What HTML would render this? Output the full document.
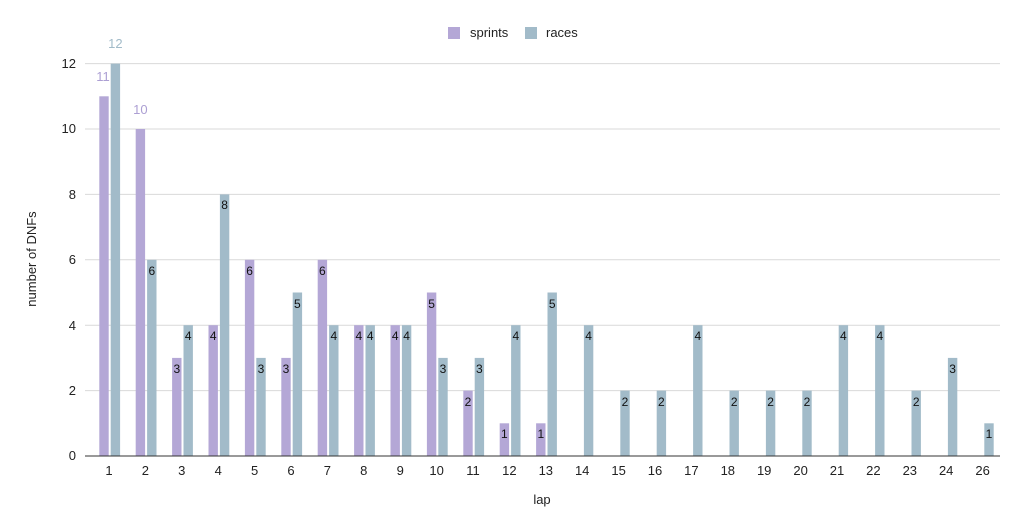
<!DOCTYPE html>
<html><head><meta charset="utf-8"><style>
body{margin:0;background:#fff;}
svg{display:block;font-family:"Liberation Sans",Arial,sans-serif;}
</style></head><body>
<svg width="1023" height="532" viewBox="0 0 1023 532" xmlns="http://www.w3.org/2000/svg">
<rect width="1023" height="532" fill="#fff"/>
<g stroke="#d9d9d9" stroke-width="1">
<line x1="85" x2="1000" y1="63.6" y2="63.6"/>
<line x1="85" x2="1000" y1="129" y2="129"/>
<line x1="85" x2="1000" y1="194.4" y2="194.4"/>
<line x1="85" x2="1000" y1="259.8" y2="259.8"/>
<line x1="85" x2="1000" y1="325.2" y2="325.2"/>
<line x1="85" x2="1000" y1="390.6" y2="390.6"/>
</g>
<g font-size="13" fill="#222" text-anchor="end">
<text x="76" y="68">12</text><text x="76" y="133">10</text><text x="76" y="199">8</text>
<text x="76" y="264">6</text><text x="76" y="330">4</text><text x="76" y="395">2</text><text x="76" y="460">0</text>
</g>
<g transform="translate(0,456) scale(1,-32.7)">
<g fill="#b4a7d6">
<rect x="99.3" width="9.4" y="0" height="11"/>
<rect x="135.7" width="9.4" y="0" height="10"/>
<rect x="172.1" width="9.4" y="0" height="3"/>
<rect x="208.5" width="9.4" y="0" height="4"/>
<rect x="244.9" width="9.4" y="0" height="6"/>
<rect x="281.3" width="9.4" y="0" height="3"/>
<rect x="317.7" width="9.4" y="0" height="6"/>
<rect x="354.1" width="9.4" y="0" height="4"/>
<rect x="390.5" width="9.4" y="0" height="4"/>
<rect x="426.9" width="9.4" y="0" height="5"/>
<rect x="463.3" width="9.4" y="0" height="2"/>
<rect x="499.7" width="9.4" y="0" height="1"/>
<rect x="536.1" width="9.4" y="0" height="1"/>
</g>
<g fill="#a2bbc9">
<rect x="110.7" width="9.4" y="0" height="12"/>
<rect x="147.1" width="9.4" y="0" height="6"/>
<rect x="183.5" width="9.4" y="0" height="4"/>
<rect x="219.9" width="9.4" y="0" height="8"/>
<rect x="256.3" width="9.4" y="0" height="3"/>
<rect x="292.7" width="9.4" y="0" height="5"/>
<rect x="329.1" width="9.4" y="0" height="4"/>
<rect x="365.5" width="9.4" y="0" height="4"/>
<rect x="401.9" width="9.4" y="0" height="4"/>
<rect x="438.3" width="9.4" y="0" height="3"/>
<rect x="474.7" width="9.4" y="0" height="3"/>
<rect x="511.1" width="9.4" y="0" height="4"/>
<rect x="547.5" width="9.4" y="0" height="5"/>
<rect x="583.9" width="9.4" y="0" height="4"/>
<rect x="620.3" width="9.4" y="0" height="2"/>
<rect x="656.7" width="9.4" y="0" height="2"/>
<rect x="693.1" width="9.4" y="0" height="4"/>
<rect x="729.5" width="9.4" y="0" height="2"/>
<rect x="765.9" width="9.4" y="0" height="2"/>
<rect x="802.3" width="9.4" y="0" height="2"/>
<rect x="838.7" width="9.4" y="0" height="4"/>
<rect x="875.1" width="9.4" y="0" height="4"/>
<rect x="911.5" width="9.4" y="0" height="2"/>
<rect x="947.9" width="9.4" y="0" height="3"/>
<rect x="984.3" width="9.4" y="0" height="1"/>
</g>
</g>
<line x1="85" x2="1000" y1="456" y2="456" stroke="#333" stroke-width="1"/>
<g font-size="13" fill="#ac9fd3" text-anchor="middle">
<text x="103" y="81">11</text><text x="140.4" y="114">10</text>
</g>
<text x="115.4" y="48" font-size="13" fill="#a2bbc9" text-anchor="middle">12</text>
<g font-size="12" fill="#111" text-anchor="middle">
<text x="176.8" y="373">3</text><text x="213.2" y="340">4</text><text x="249.6" y="275">6</text>
<text x="286" y="373">3</text><text x="322.4" y="275">6</text><text x="358.8" y="340">4</text>
<text x="395.2" y="340">4</text><text x="431.6" y="308">5</text><text x="468" y="406">2</text>
<text x="504.4" y="438">1</text><text x="540.8" y="438">1</text>
<text x="151.8" y="275">6</text><text x="188.2" y="340">4</text><text x="224.6" y="209">8</text>
<text x="261" y="373">3</text><text x="297.4" y="308">5</text><text x="333.8" y="340">4</text>
<text x="370.2" y="340">4</text><text x="406.6" y="340">4</text><text x="443" y="373">3</text>
<text x="479.4" y="373">3</text><text x="515.8" y="340">4</text><text x="552.2" y="308">5</text>
<text x="588.6" y="340">4</text><text x="625" y="406">2</text><text x="661.4" y="406">2</text>
<text x="697.8" y="340">4</text><text x="734.2" y="406">2</text><text x="770.6" y="406">2</text>
<text x="807" y="406">2</text><text x="843.4" y="340">4</text><text x="879.8" y="340">4</text>
<text x="916.2" y="406">2</text><text x="952.6" y="373">3</text><text x="989" y="438">1</text>
</g>
<g font-size="13" fill="#222" text-anchor="middle">
<text x="109" y="475">1</text><text x="145.4" y="475">2</text><text x="181.8" y="475">3</text>
<text x="218.2" y="475">4</text><text x="254.6" y="475">5</text><text x="291" y="475">6</text>
<text x="327.4" y="475">7</text><text x="363.8" y="475">8</text><text x="400.2" y="475">9</text>
<text x="436.6" y="475">10</text><text x="473" y="475">11</text><text x="509.4" y="475">12</text>
<text x="545.8" y="475">13</text><text x="582.2" y="475">14</text><text x="618.6" y="475">15</text>
<text x="655" y="475">16</text><text x="691.4" y="475">17</text><text x="727.8" y="475">18</text>
<text x="764.2" y="475">19</text><text x="800.6" y="475">20</text><text x="837" y="475">21</text>
<text x="873.4" y="475">22</text><text x="909.8" y="475">23</text><text x="946.2" y="475">24</text>
<text x="982.6" y="475">26</text>
</g>
<text x="542" y="504" font-size="13" fill="#222" text-anchor="middle">lap</text>
<text transform="translate(36,259) rotate(-90)" font-size="13" fill="#222" text-anchor="middle">number of DNFs</text>
<rect x="448" y="27" width="12" height="12" fill="#b4a7d6"/>
<text x="470" y="37" font-size="13" fill="#222">sprints</text>
<rect x="525" y="27" width="12" height="12" fill="#a2bbc9"/>
<text x="546" y="37" font-size="13" fill="#222">races</text>
</svg>
</body></html>
